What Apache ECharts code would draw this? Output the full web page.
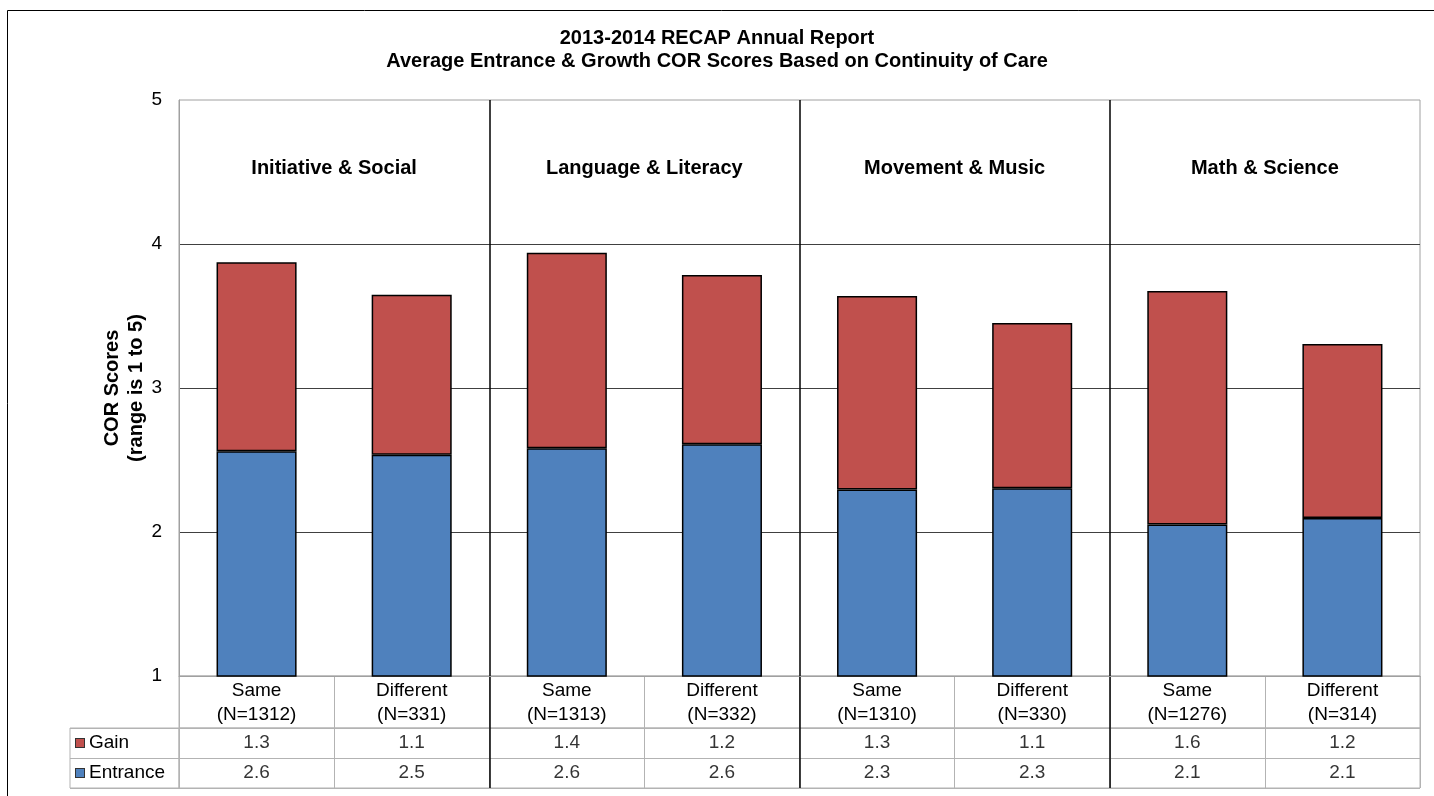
<!DOCTYPE html>
<html><head><meta charset="utf-8">
<script src="https://cdn.jsdelivr.net/npm/echarts@6/dist/echarts.min.js"></script>
<style>html,body{margin:0;padding:0;background:#fff}#c{width:1434px;height:796px}</style>
</head><body><div id="c"></div>
<script>
// ---- data ----
const titleLines = ['2013-2014 RECAP Annual Report', 'Average Entrance & Growth COR Scores Based on Continuity of Care'];
const groups = ['Initiative & Social', 'Language & Literacy', 'Movement & Music', 'Math & Science'];
const categories = ['Same\n(N=1312)', 'Different\n(N=331)', 'Same\n(N=1313)', 'Different\n(N=332)',
                    'Same\n(N=1310)', 'Different\n(N=330)', 'Same\n(N=1276)', 'Different\n(N=314)'];
const entrance = [2.560, 2.537, 2.581, 2.609, 2.296, 2.303, 2.052, 2.097];
const gain     = [1.313, 1.111, 1.359, 1.176, 1.343, 1.148, 1.622, 1.209];
const tableRows = ['Entrance', 'Gain'];          // bottom to top
const yMin = 1, yMax = 5, yInterval = 1;
const yName = 'COR Scores\n(range is 1 to 5)';

// ---- style ----
const F = "'Liberation Sans', Arial, sans-serif";
const BLUE = '#4F81BD', RED = '#C0504D';
const COLORS = { Entrance: BLUE, Gain: RED };
const TBL = '#b3b3b3';
const L = 179, W = 1241;

const chart = echarts.init(document.getElementById('c'), null, { renderer: 'canvas' });

const hidden = { axisLine: { show: false }, axisTick: { show: false }, axisLabel: { show: false } };

const rich = { t: { fontFamily: F, fontSize: 19, color: '#000', padding: [0, 0, 0, 5] } };
tableRows.forEach(r => { rich[r] = { width: 8, height: 8, backgroundColor: COLORS[r], borderColor: '#333', borderWidth: 1 }; });

const tableData = (arr, row) => arr.map((v, i) => [i, tableRows.indexOf(row), v]);

const option = {
  animation: false,
  backgroundColor: '#fff',
  title: {
    text: titleLines.join('\n'), left: 'center', top: 22, padding: [5, 0, 5, 14],
    textStyle: { fontFamily: F, fontSize: 20, fontWeight: 'bold', color: '#000', lineHeight: 23 }
  },
  graphic: [{ type: 'rect', silent: true, shape: { x: 7.5, y: 10.5, width: 1440, height: 800 },
              style: { fill: 'none', stroke: '#000', lineWidth: 1 }, z: 100 }],
  grid: [
    { left: L, top: 100, width: W, height: 576, show: true, borderColor: '#a0a0a0', borderWidth: 1 },
    { left: L, top: 676, width: W, height: 52, show: true, borderColor: TBL, borderWidth: 1 },
    { left: L, top: 728, width: W, height: 60, show: true, borderColor: TBL, borderWidth: 1 },
    { left: 70, top: 728, width: 109, height: 60, show: true, borderColor: TBL, borderWidth: 1 },
    { left: L, top: 100, width: W, height: 688 }
  ],
  xAxis: [
    { gridIndex: 0, type: 'category', data: categories,
      axisLine: { show: true, lineStyle: { color: '#a0a0a0' } }, axisTick: { show: false },
      axisLabel: { interval: 0, fontFamily: F, fontSize: 19, color: '#000', lineHeight: 24, margin: 3 },
      splitLine: { show: false } },
    Object.assign({ gridIndex: 1, type: 'category', data: categories,
      splitLine: { show: true, interval: 0, lineStyle: { color: TBL } } }, hidden),
    Object.assign({ gridIndex: 2, type: 'category', data: categories,
      splitLine: { show: true, interval: 0, lineStyle: { color: TBL } } }, hidden),
    { gridIndex: 3, type: 'category', data: [''], show: false },
    Object.assign({ gridIndex: 4, type: 'category', data: categories,
      splitLine: { show: true, showMinLine: true, showMaxLine: false,
                   interval: (i) => i > 0 && i % 2 === 0, lineStyle: { color: '#000', width: 1.5 } } }, hidden),
    { gridIndex: 4, type: 'category', data: groups, position: 'top',
      axisLine: { show: false }, axisTick: { show: false }, splitLine: { show: false },
      axisLabel: { inside: true, interval: 0, margin: 58, fontFamily: F, fontSize: 20, fontWeight: 'bold', color: '#000' } }
  ],
  yAxis: [
    { gridIndex: 0, type: 'value', min: yMin, max: yMax, interval: yInterval,
      name: yName, nameLocation: 'middle', nameGap: 31, nameMoveOverlap: false,
      nameTextStyle: { fontFamily: F, fontSize: 20, fontWeight: 'bold', color: '#000', lineHeight: 24 },
      axisLine: { show: true, lineStyle: { color: '#a0a0a0' } }, axisTick: { show: false },
      axisLabel: { fontFamily: F, fontSize: 19, color: '#000', margin: 17 },
      splitLine: { show: true, showMinLine: false, showMaxLine: false, lineStyle: { color: '#404040' } } },
    { gridIndex: 1, type: 'value', min: 0, max: 1, show: false },
    Object.assign({ gridIndex: 2, type: 'category', data: tableRows,
      splitLine: { show: true, interval: 0, lineStyle: { color: TBL } } }, hidden),
    { gridIndex: 3, type: 'category', data: tableRows,
      axisLine: { show: false }, axisTick: { show: false },
      axisLabel: { inside: true, margin: 6, formatter: v => `{${v}|}{t|${v}}`, rich: rich },
      splitLine: { show: true, interval: 0, lineStyle: { color: TBL } } },
    { gridIndex: 4, type: 'value', min: 0, max: 1, show: false }
  ],
  series: [
    { name: 'Entrance', type: 'bar', stack: 's', xAxisIndex: 0, yAxisIndex: 0, data: entrance,
      barWidth: '51.6%', itemStyle: { color: BLUE, borderColor: '#000', borderWidth: 1.5 } },
    { name: 'Gain', type: 'bar', stack: 's', xAxisIndex: 0, yAxisIndex: 0, data: gain,
      barWidth: '51.6%', itemStyle: { color: RED, borderColor: '#000', borderWidth: 1.5 } },
    { type: 'scatter', xAxisIndex: 2, yAxisIndex: 2, symbolSize: 1, data: tableData(gain, 'Gain'),
      itemStyle: { color: 'rgba(0,0,0,0)' },
      label: { show: true, position: 'inside', formatter: p => p.value[2].toFixed(1), fontFamily: F, fontSize: 19, color: '#000' } },
    { type: 'scatter', xAxisIndex: 2, yAxisIndex: 2, symbolSize: 1, data: tableData(entrance, 'Entrance'),
      itemStyle: { color: 'rgba(0,0,0,0)' },
      label: { show: true, position: 'inside', formatter: p => p.value[2].toFixed(1), fontFamily: F, fontSize: 19, color: '#000' } }
  ]
};
chart.setOption(option);
</script>
</body></html>
